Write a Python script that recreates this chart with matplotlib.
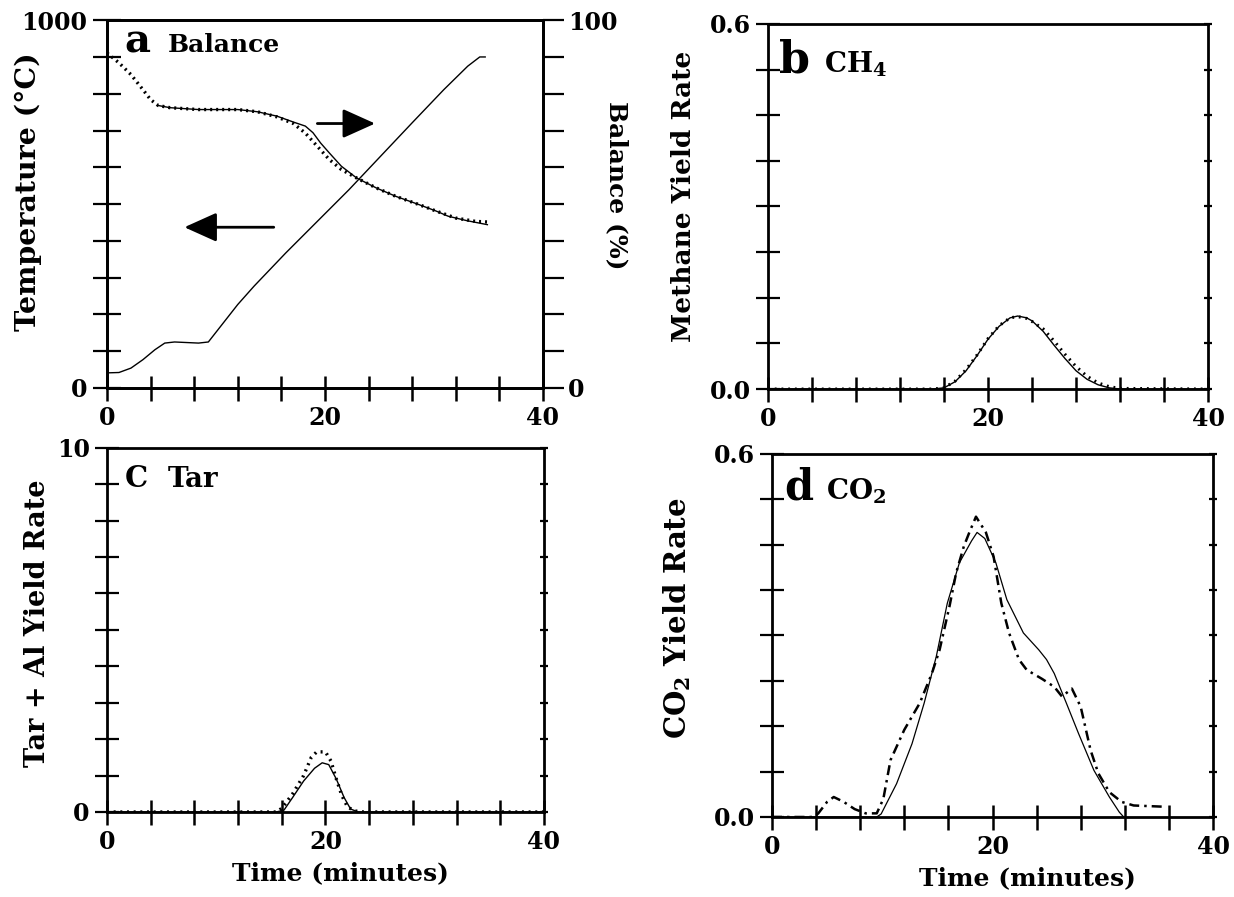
import numpy as np
import matplotlib
matplotlib.use("Agg")
import matplotlib.pyplot as plt

plt.rcParams["font.family"] = ["DejaVu Serif"]
plt.rcParams["font.weight"] = "bold"
plt.rcParams["mathtext.fontset"] = "dejavuserif"
plt.rcParams["mathtext.default"] = "bf"

# ---- (a) temperature and balance ----
temp_t = [0, 1.1, 2.2, 3.3, 4.4, 5.3, 6.2, 8.4, 9.3, 10.2, 12, 13.5, 16.4, 19.3, 22.2, 25.1, 28, 30.9, 33.1, 34.2, 34.7]
temp_v = [41, 42, 54, 77, 104, 122, 125, 122, 125, 159, 227, 277, 367, 453, 539, 630, 721, 811, 875, 900, 900]

bal_dot_t = [0, 1.1, 2.2, 3.3, 4.0, 4.7, 5.8, 8.4, 12, 13.8, 15.6, 17.1, 18.2, 19.3, 20.4, 21.5, 22.9, 24.7, 26.5, 28.4, 30.2, 32, 33.8, 35.1]
bal_dot_v = [91.1, 88.4, 85.2, 81.1, 78.4, 76.8, 76.2, 75.7, 75.7, 75.1, 73.7, 71.9, 69.3, 65.7, 62.1, 59.4, 57.1, 54.4, 52.1, 50.1, 48.1, 46.2, 45.3, 45.1]

bal_line_t = [4.7, 5.8, 8.4, 12, 13.8, 15.6, 17.1, 18.2, 18.9, 19.6, 20.4, 21.5, 22.9, 24.7, 26.5, 28.4, 30.2, 31.3, 33.0, 34.9]
bal_line_v = [76.8, 76.2, 75.7, 75.7, 75.1, 73.9, 72.3, 71.2, 69.4, 66.6, 63.9, 60.3, 57.1, 54.4, 52.1, 50.1, 48.1, 46.7, 45.5, 44.4]

# ---- (b) methane ----
ch4_t = [0, 15, 16, 17, 18, 19, 20, 21, 22, 22.7, 23.5, 24, 25, 26, 27, 28, 29, 30, 31, 32, 40]
ch4_line = [0, 0, 0.002, 0.012, 0.03, 0.055, 0.082, 0.103, 0.117, 0.12, 0.117, 0.112, 0.095, 0.072, 0.05, 0.03, 0.016, 0.007, 0.002, 0, 0]
ch4_dot = [0, 0, 0.002, 0.013, 0.032, 0.056, 0.083, 0.104, 0.117, 0.119, 0.116, 0.111, 0.099, 0.079, 0.057, 0.037, 0.021, 0.010, 0.004, 0.001, 0]

# ---- (c) tar ----
tar_line_t = [0, 15.5, 16.2, 17, 18, 19, 19.7, 20.3, 21, 21.7, 22.3, 23, 40]
tar_line_v = [0, 0, 0.05, 0.4, 0.85, 1.2, 1.35, 1.3, 0.9, 0.4, 0.08, 0, 0]
tar_dot_t = [0, 15.5, 16, 17, 18, 18.7, 19.2, 20, 20.5, 21, 21.5, 22, 22.6, 23.5, 40]
tar_dot_v = [0, 0, 0.1, 0.5, 1.0, 1.5, 1.65, 1.65, 1.4, 0.9, 0.45, 0.15, 0.03, 0, 0]

# ---- (d) carbon dioxide ----
co2_dot_t = [0, 3.8, 4.2, 5.0, 5.6, 6.5, 7.5, 8.5, 9.5, 10.1, 10.75, 12, 13.4, 14.5, 15.2, 16.1, 16.7, 17.4, 17.9, 18.5,
             19.4, 20.1, 20.8, 21.5, 22.4, 23.1, 24.5, 25.6, 26.3, 27.2, 28, 28.9, 29.6, 30.6, 31.7, 32.8, 35.5]
co2_dot_v = [0, 0, 0.006, 0.025, 0.033, 0.025, 0.013, 0.006, 0.006, 0.03, 0.094, 0.144, 0.188, 0.237, 0.276, 0.348, 0.403, 0.447, 0.47, 0.496,
             0.47, 0.43, 0.353, 0.304, 0.26, 0.243, 0.228, 0.215, 0.199, 0.212, 0.182, 0.11, 0.072, 0.041, 0.025, 0.019, 0.017]
co2_line_t = [0, 9.5, 9.9, 11.3, 12.7, 13.8, 14.9, 15.9, 17, 18.1, 18.6, 19.3, 20.3, 21.3, 22.8, 24.2, 24.9, 25.6, 26.7, 27.8, 29.2, 30.6, 31.5, 31.9]
co2_line_v = [0, 0, 0.005, 0.055, 0.121, 0.188, 0.265, 0.353, 0.42, 0.456, 0.47, 0.46, 0.42, 0.359, 0.304, 0.276, 0.26, 0.237, 0.188, 0.138, 0.077, 0.033, 0.008, 0]

fig = plt.figure(figsize=(12.34, 8.97), dpi=100)

TICK_FS = 17
SPINE_W = 2.0


def frame(ax, ymax, ystep, ylabels, left_len=17, right_len=6):
    ax.set_xlim(0, 40)
    ax.set_ylim(0, ymax)
    for s in ax.spines.values():
        s.set_linewidth(SPINE_W)
    ax.set_xticks(np.arange(0, 41, 4))
    ax.set_xticklabels(["0" if v == 0 else ("20" if v == 20 else ("40" if v == 40 else "")) for v in range(0, 41, 4)])
    yt = np.linspace(0, ymax, int(round(ymax / ystep)) + 1)
    ax.set_yticks(yt)
    ax.set_yticklabels([ylabels[0]] + [""] * (len(yt) - 2) + [ylabels[1]])
    ax.tick_params(axis="x", direction="inout", length=18, width=1.8, pad=4, labelsize=TICK_FS)
    ax.tick_params(axis="y", which="both", left=True, right=True, direction="inout", width=1.6,
                   length=left_len, pad=4, labelsize=TICK_FS)
    for t in ax.yaxis.get_major_ticks():
        t.tick2line.set_markersize(right_len)
    for lab in ax.get_xticklabels() + ax.get_yticklabels():
        lab.set_fontweight("bold")


def side_label(ax, x, y, text, size, rot=90):
    ax.text(x, y, text, transform=ax.transAxes, rotation=rot, ha="center", va="center",
            fontsize=size, fontweight="bold")


def panel_title(ax, letter, name, lsize, nsize, x0, x1, yb):
    ax.text(x0, yb, letter, transform=ax.transAxes, fontsize=lsize, fontweight="bold", va="baseline", ha="left")
    ax.text(x1, yb, name, transform=ax.transAxes, fontsize=nsize, fontweight="bold", va="baseline", ha="left")


# panel a
ax_a = fig.add_axes([0.0867, 0.5675, 0.3533, 0.410])
frame(ax_a, 1000, 100, ["0", "1000"], left_len=20, right_len=0)
ax_a.plot(temp_t, temp_v, color="black", lw=1.0)
side_label(ax_a, -0.18, 0.533, "Temperature (°C)", 20.5)
ax_b2 = ax_a.twinx()
ax_b2.set_ylim(0, 100)
ax_b2.set_yticks(np.arange(0, 101, 10))
ax_b2.set_yticklabels(["0"] + [""] * 9 + ["100"])
ax_b2.tick_params(axis="y", direction="out", length=15, width=1.6, pad=3, labelsize=TICK_FS)
for lab in ax_b2.get_yticklabels():
    lab.set_fontweight("bold")
for s in ax_b2.spines.values():
    s.set_linewidth(SPINE_W)
ax_b2.plot(bal_line_t, bal_line_v, color="black", lw=1.0)
ax_b2.plot(bal_dot_t, bal_dot_v, color="black", lw=2.4, linestyle=(0, (0.6, 1.2)))
side_label(ax_a, 1.17, 0.55, "Balance (%)", 18, rot=270)
ax_a.annotate("", xy=(24.6, 719), xytext=(19.3, 719),
              arrowprops=dict(arrowstyle="-|>,head_length=1.0,head_width=0.45", lw=2.0, color="black",
                              mutation_scale=20, shrinkA=0, shrinkB=0))
ax_a.annotate("", xy=(7.1, 437), xytext=(15.3, 437),
              arrowprops=dict(arrowstyle="-|>,head_length=1.0,head_width=0.45", lw=2.0, color="black",
                              mutation_scale=20, shrinkA=0, shrinkB=0))
panel_title(ax_a, "a", "Balance", 29, 18, 0.04, 0.14, 0.913)

# panel b
ax_b = fig.add_axes([0.6224, 0.5663, 0.3566, 0.407])
frame(ax_b, 0.6, 0.075, ["0.0", "0.6"])
ax_b.plot(ch4_t, ch4_line, color="black", lw=1.0)
ax_b.plot(ch4_t, ch4_dot, color="black", lw=2.2, linestyle=(0, (0.6, 1.6)))
side_label(ax_b, -0.193, 0.529, "Methane Yield Rate", 19)
panel_title(ax_b, "b", r"CH$_4$", 32, 20, 0.025, 0.127, 0.868)

# panel c
ax_c = fig.add_axes([0.0867, 0.0948, 0.3541, 0.406])
frame(ax_c, 10, 1, ["0", "10"])
ax_c.plot(tar_line_t, tar_line_v, color="black", lw=1.0)
ax_c.plot(tar_dot_t, tar_dot_v, color="black", lw=2.4, linestyle=(0, (0.6, 1.4)))
side_label(ax_c, -0.158, 0.519, "Tar + Al Yield Rate", 19.5)
side_label(ax_c, 0.535, -0.168, "Time (minutes)", 18, rot=0)
panel_title(ax_c, "C", "Tar", 21, 20, 0.04, 0.14, 0.893)

# panel d
ax_d = fig.add_axes([0.6256, 0.0892, 0.3574, 0.405])
frame(ax_d, 0.6, 0.075, ["0.0", "0.6"])
ax_d.plot(co2_line_t, co2_line_v, color="black", lw=0.9)
ax_d.plot(co2_dot_t, co2_dot_v, color="black", lw=1.8, linestyle=(0, (4, 2, 1, 2)))
side_label(ax_d, -0.215, 0.548, r"CO$_2$ Yield Rate", 21)
side_label(ax_d, 0.58, -0.168, "Time (minutes)", 18, rot=0)
panel_title(ax_d, "d", r"CO$_2$", 30, 20, 0.027, 0.122, 0.873)

fig.savefig("out.png", dpi=100)
